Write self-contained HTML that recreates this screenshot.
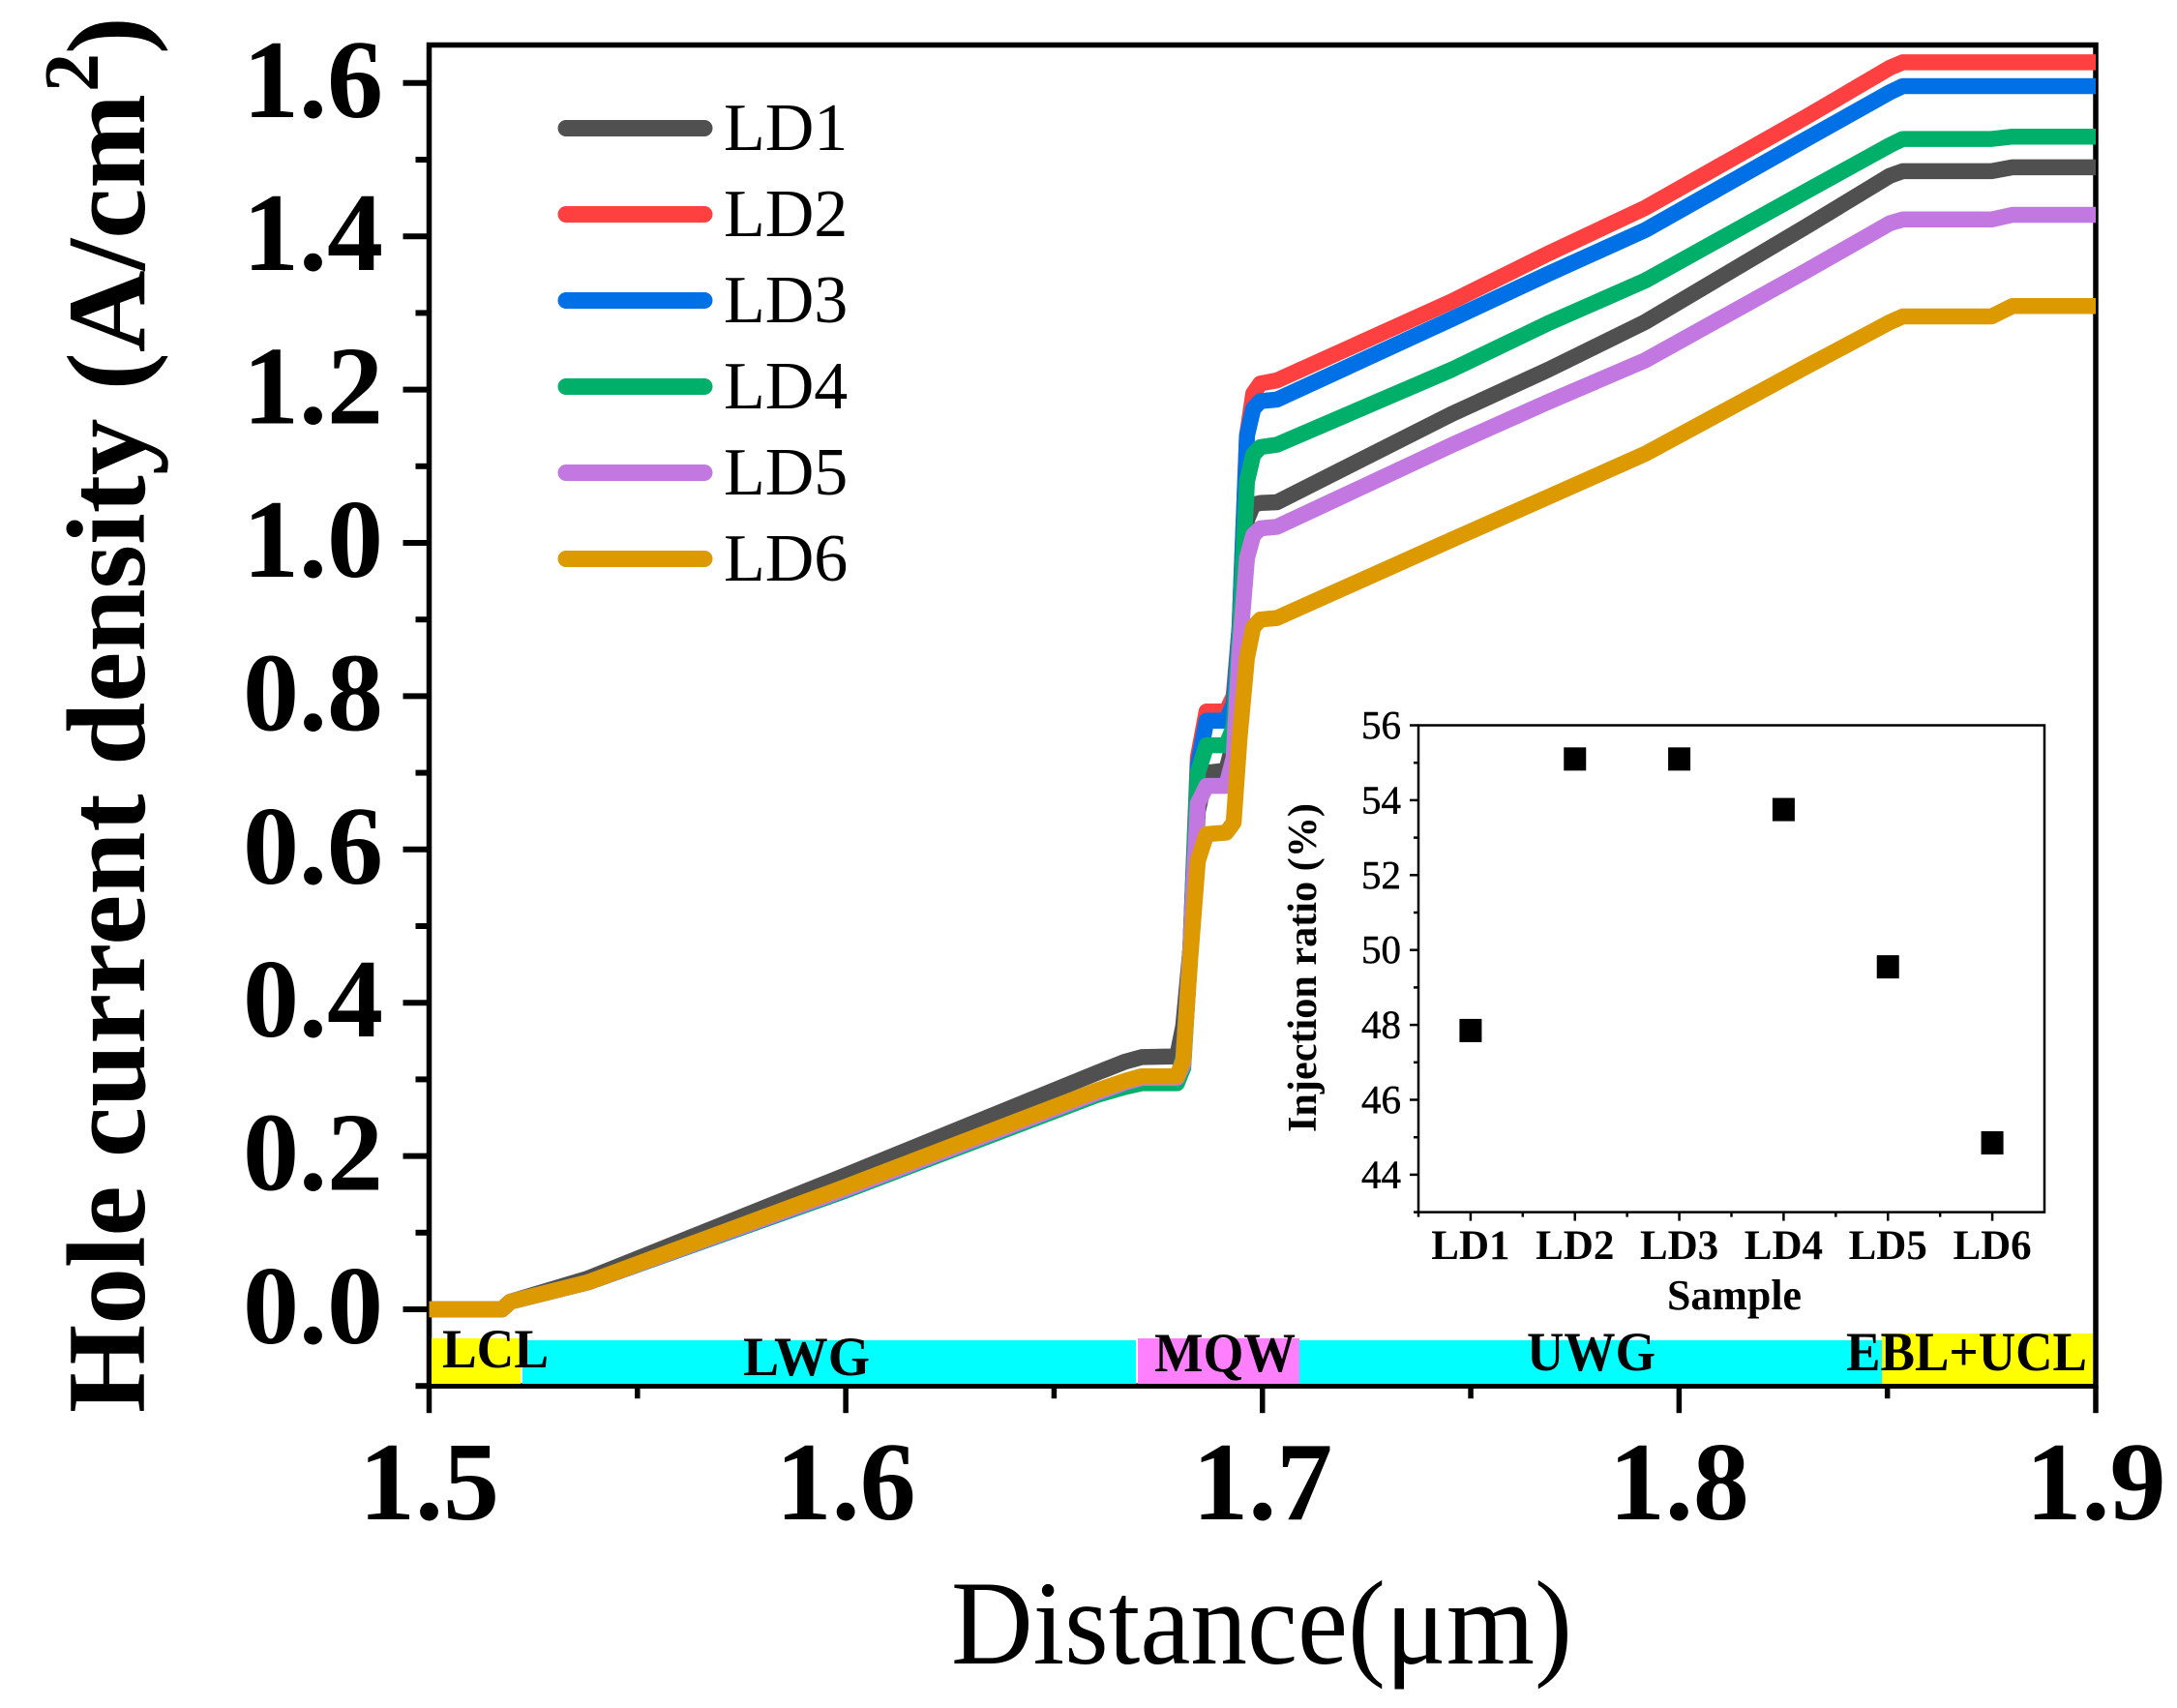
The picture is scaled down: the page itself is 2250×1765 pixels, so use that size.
<!DOCTYPE html>
<html lang="en">
<head>
<meta charset="utf-8">
<title>Hole current density chart</title>
<style>
html,body{margin:0;padding:0;background:#fff;}
svg{display:block;font-family:"Liberation Serif",serif;}
</style>
</head>
<body>
<svg id="chart" xmlns="http://www.w3.org/2000/svg" width="2250" height="1765" viewBox="0 0 2250 1765">
  <rect x="0" y="0" width="2250" height="1765" fill="#ffffff"/>
  <g id="main-axes"></g>
  <g>
    <rect x="446" y="1383" width="92" height="47" fill="#ffff00"/>
    <rect x="540" y="1385" width="634" height="45" fill="#00ffff"/>
    <rect x="1176" y="1383" width="167" height="47" fill="#ff80ff"/>
    <rect x="1343" y="1385" width="602" height="45" fill="#00ffff"/>
    <rect x="1945" y="1378" width="218" height="52" fill="#ffff00"/>
  </g>
  <g id="series-layer"></g>
  <g font-weight="bold" font-size="57" fill="#000">
    <text x="457" y="1413" textLength="110" lengthAdjust="spacingAndGlyphs">LCL</text>
    <text x="768" y="1421" textLength="131" lengthAdjust="spacingAndGlyphs">LWG</text>
    <text x="1193" y="1417" textLength="146" lengthAdjust="spacingAndGlyphs">MQW</text>
    <text x="1578" y="1416" textLength="133" lengthAdjust="spacingAndGlyphs">UWG</text>
    <text x="1908" y="1416" textLength="249" lengthAdjust="spacingAndGlyphs">EBL+UCL</text>
  </g>
  <g font-weight="bold" fill="#000">
    <text transform="translate(149,1460) rotate(-90)" font-size="116" textLength="1363" lengthAdjust="spacingAndGlyphs">Hole current density (A/cm</text>
    <text transform="translate(101,95) rotate(-90)" font-size="80">2</text>
    <text transform="translate(149,56) rotate(-90)" font-size="116">)</text>
  </g>
  <text x="983" y="1719" font-size="124" textLength="642" lengthAdjust="spacingAndGlyphs" fill="#000">Distance(μm)</text>
  <g id="legend"></g>
  <g id="inset"></g>
  <text transform="translate(1360,1170) rotate(-90)" font-size="42" font-weight="bold" textLength="340" lengthAdjust="spacingAndGlyphs" fill="#000">Injection ratio (%)</text>
  <text x="1723" y="1353" font-size="44" font-weight="bold" textLength="139" lengthAdjust="spacingAndGlyphs" fill="#000">Sample</text>
</svg>
<script>
// ---- main chart data ----
const distance = [1.5,1.5175,1.5195,1.538,1.6,1.66,1.667,1.671,1.6795,1.681,1.6827,1.6845,1.6866,1.6913,1.6931,1.6945,1.6963,1.6978,1.6995,1.7035,1.7454,1.7686,1.7918,1.8306,1.8506,1.8537,1.875,1.88,1.9];
const ld1 = [0,0,0.01,0.04,0.175,0.308,0.323,0.329,0.33,0.37,0.47,0.65,0.70,0.703,0.74,0.87,1.03,1.05,1.052,1.053,1.168,1.226,1.288,1.413,1.479,1.485,1.485,1.49,1.49];
const ld2 = [0,0,0.01,0.035,0.155,0.28,0.292,0.298,0.299,0.33,0.47,0.72,0.78,0.78,0.80,0.89,1.14,1.195,1.208,1.212,1.315,1.3775,1.437,1.556,1.62,1.627,1.627,1.627,1.627];
const ld3 = [0,0,0.01,0.035,0.155,0.28,0.292,0.298,0.299,0.33,0.47,0.71,0.768,0.768,0.79,0.89,1.14,1.175,1.185,1.187,1.292,1.351,1.408,1.527,1.588,1.596,1.596,1.596,1.596];
const ld4 = [0,0,0.01,0.035,0.155,0.279,0.29,0.295,0.295,0.315,0.47,0.70,0.736,0.736,0.76,0.88,1.08,1.115,1.125,1.128,1.226,1.2866,1.342,1.459,1.519,1.527,1.527,1.53,1.53];
const ld5 = [0,0,0.01,0.035,0.157,0.282,0.296,0.302,0.302,0.32,0.47,0.66,0.683,0.683,0.72,0.86,0.98,1.01,1.019,1.021,1.1275,1.184,1.238,1.355,1.417,1.422,1.422,1.428,1.428];
const ld6 = [0,0,0.01,0.035,0.16,0.285,0.298,0.304,0.304,0.325,0.46,0.585,0.62,0.622,0.635,0.745,0.85,0.89,0.90,0.902,1.004,1.06,1.116,1.23,1.288,1.2955,1.2955,1.309,1.309];
const seriesNames = ['LD1','LD2','LD3','LD4','LD5','LD6'];
const seriesColors = ['#505050','#ff4040','#0070e6','#00b06a','#c278e0','#dc9a00'];
const yTickLabels = ['0.0','0.2','0.4','0.6','0.8','1.0','1.2','1.4','1.6'];
const xTickLabels = ['1.5','1.6','1.7','1.8','1.9'];
const yMinorTicks = [-0.1,0.1,0.3,0.5,0.7,0.9,1.1,1.3,1.5];
const xMinorTicks = [1.55,1.65,1.75,1.85];
// ---- inset data ----
const insetSamples = ['LD1','LD2','LD3','LD4','LD5','LD6'];
const injectionRatio = [47.85,55.1,55.1,53.75,49.55,44.85];
const insetYTickLabels = ['44','46','48','50','52','54','56'];
const insetYMinorTicks = [43,45,47,49,51,53,55];

const NS = 'http://www.w3.org/2000/svg';
function el(parent, tag, attrs, text){
  const n = document.createElementNS(NS, tag);
  for (const k in attrs) n.setAttribute(k, attrs[k]);
  if (text !== undefined) n.textContent = text;
  parent.appendChild(n);
  return n;
}
const sx = v => 443.5 + (v - 1.5) * (2166 - 443.5) / 0.4;
const sy = v => 1353 - v * 792;
const ix = i => 1466 + (i + 0.5) * (2113 - 1466) / 6;
const iy = v => 749.5 + (56 - v) * 38.7;

// main axes
const axes = document.getElementById('main-axes');
const frame = el(axes, 'rect', {x: sx(1.5), y: 46.5, width: sx(1.9) - sx(1.5), height: sy(-0.1) - 46.5, fill: 'none', stroke: '#000', 'stroke-width': 5.5});


yTickLabels.forEach(function(t){
  const v = parseFloat(t);
  const tick = el(axes, 'line', {x1: sx(1.5) - 27, x2: sx(1.5), y1: sy(v), y2: sy(v), stroke: '#000', 'stroke-width': 6});
  
  
  const label = el(axes, 'text', {x: 396, y: sy(v) + 35, 'text-anchor': 'end', 'font-size': 116, 'font-weight': 'bold', fill: '#000'}, t);
  
  
});
yMinorTicks.forEach(function(v){
  const tick = el(axes, 'line', {x1: sx(1.5) - 14, x2: sx(1.5), y1: sy(v), y2: sy(v), stroke: '#000', 'stroke-width': 6});
  
  
});
xTickLabels.forEach(function(t){
  const v = parseFloat(t);
  const tick = el(axes, 'line', {x1: sx(v), x2: sx(v), y1: sy(-0.1), y2: sy(-0.1) + 28, stroke: '#000', 'stroke-width': 5.5});
  
  
  const label = el(axes, 'text', {x: sx(v), y: 1570, 'text-anchor': 'middle', 'font-size': 116, 'font-weight': 'bold', fill: '#000'}, t);
  
  
});
xMinorTicks.forEach(function(v){
  const tick = el(axes, 'line', {x1: sx(v), x2: sx(v), y1: sy(-0.1), y2: sy(-0.1) + 13, stroke: '#000', 'stroke-width': 5.5});
  
  
});

// series
const seriesValues = [ld1, ld2, ld3, ld4, ld5, ld6];
const seriesLayer = document.getElementById('series-layer');
seriesValues.forEach(function(values, s){
  const pts = values.map(function(v, i){ return sx(distance[i]).toFixed(1) + ',' + sy(v).toFixed(1); }).join(' ');
  const line = el(seriesLayer, 'polyline', {points: pts, fill: 'none', stroke: seriesColors[s], 'stroke-width': 16.5, 'stroke-linejoin': 'round', 'stroke-linecap': 'butt'});
  
  
});

// legend
const legend = document.getElementById('legend');
seriesNames.forEach(function(name, i){
  const y = 132.5 + i * 89;
  const line = el(legend, 'line', {x1: 585, x2: 728, y1: y, y2: y, stroke: seriesColors[i], 'stroke-width': 17, 'stroke-linecap': 'round'});
  
  
  const label = el(legend, 'text', {x: 748, y: y + 22.5, 'font-size': 70, fill: '#000'}, name);
  
  
});

// inset
const inset = document.getElementById('inset');
const insetFrame = el(inset, 'rect', {x: 1466, y: iy(56), width: 2113 - 1466, height: iy(43) - iy(56), fill: 'none', stroke: '#000', 'stroke-width': 2.5});


insetYTickLabels.forEach(function(t){
  const v = parseFloat(t);
  const tick = el(inset, 'line', {x1: 1457, x2: 1466, y1: iy(v), y2: iy(v), stroke: '#000', 'stroke-width': 2.5});
  
  
  const label = el(inset, 'text', {x: 1448, y: iy(v) + 13.5, 'text-anchor': 'end', 'font-size': 41, stroke: '#000', 'stroke-width': 0.5, fill: '#000'}, t);
  
  
});
insetYMinorTicks.forEach(function(v){
  const tick = el(inset, 'line', {x1: 1461, x2: 1466, y1: iy(v), y2: iy(v), stroke: '#000', 'stroke-width': 2.5});
  
  
});
insetSamples.forEach(function(name, i){
  const tick = el(inset, 'line', {x1: ix(i), x2: ix(i), y1: iy(43), y2: iy(43) + 9, stroke: '#000', 'stroke-width': 2.5});
  
  
  const minor = el(inset, 'line', {x1: ix(i - 0.5), x2: ix(i - 0.5), y1: iy(43), y2: iy(43) + 5, stroke: '#000', 'stroke-width': 2.5});
  
  
  const label = el(inset, 'text', {x: ix(i), y: 1301, 'text-anchor': 'middle', 'font-size': 43, 'font-weight': 'bold', fill: '#000'}, name);
  
  
  const mark = el(inset, 'rect', {x: ix(i) - 11.5, y: iy(injectionRatio[i]) - 12, width: 23, height: 24, fill: '#000'});
  
  
});
</script>
</body>
</html>
